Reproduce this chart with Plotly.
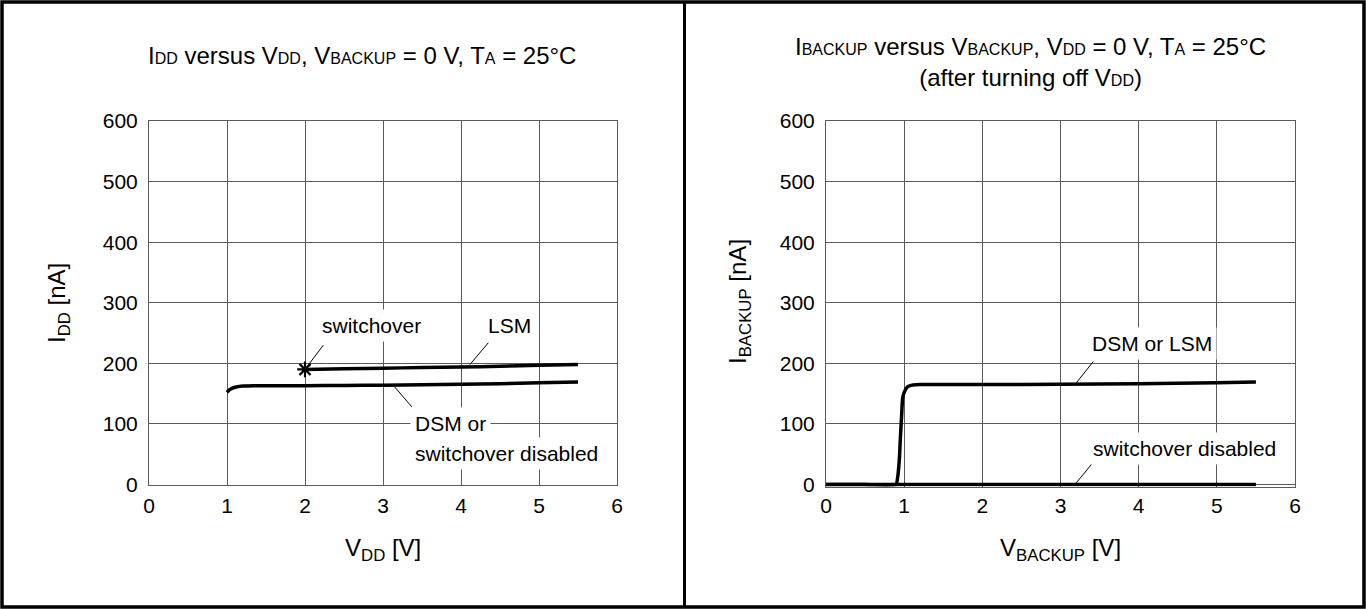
import plotly.graph_objects as go

W, H = 1366, 609

# ---------------- data ----------------
x_ticks = [0, 1, 2, 3, 4, 5, 6]
y_ticks = [0, 100, 200, 300, 400, 500, 600]

# Left panel: IDD versus VDD
lsm_x = [2.0, 2.5, 3.0, 3.5, 4.0, 4.5, 5.0, 5.5]
lsm_y = [190, 191, 192, 193, 194, 195, 197, 198]
switchover_x = [2.0]
switchover_y = [190]
dsm_x = [1.0, 1.03, 1.07, 1.12, 1.2, 1.35, 1.5, 2.0, 2.5, 3.0, 3.5, 4.0, 4.5, 5.0, 5.5]
dsm_y = [152, 156, 159, 161, 162.5, 163, 163, 163, 163.5, 164, 164.5, 165.5, 166.5, 168, 169]

# Right panel: IBACKUP versus VBACKUP
bk_on_x = [0, 0.5, 0.895, 0.92, 0.94, 0.95, 0.97, 0.98, 1.0, 1.04, 1.1, 1.2, 1.5, 2.0, 3.0, 4.0, 5.0, 5.5]
bk_on_y = [0, 0, 0, 15, 45, 73, 120, 142, 152, 161, 164, 165, 165, 165, 165.5, 166.5, 168, 169]
bk_off_x = [0, 5.5]
bk_off_y = [0, 0]

# annotation labels: (text, x, y) in data units, leader lines (x0,y0,x1,y1)
left_labels = [("switchover", 2.85, 262), ("LSM", 4.62, 262)]
left_leaders = [(2.0, 190, 2.235, 230), (4.115, 198, 4.35, 234), (3.15, 161, 3.37, 128)]
left_dsm_labels = [("DSM or", 3.35, 101), ("switchover disabled", 3.35, 51)]
right_labels = [("DSM or LSM", 4.17, 233), ("switchover disabled", 4.58, 60)]
right_leaders = [(3.185, 165, 3.42, 203), (3.185, 0, 3.42, 37)]

# ---------------- layout helpers ----------------
def px(x):
    return x / W

def py(y):
    return 1 - y / H

FONT = "Liberation Sans, Arial, sans-serif"
GRID = "#5a5a5a"

fig = go.Figure()

line_style = dict(color="black", width=3.5)
fig.add_trace(go.Scatter(x=dsm_x, y=dsm_y, mode="lines", line=dict(shape="spline", smoothing=0.6, **line_style),
                         xaxis="x", yaxis="y", showlegend=False, cliponaxis=False))
fig.add_trace(go.Scatter(x=lsm_x, y=lsm_y, mode="lines", line=dict(shape="spline", smoothing=0.6, **line_style),
                         xaxis="x", yaxis="y", showlegend=False, cliponaxis=False))
fig.add_trace(go.Scatter(x=switchover_x, y=switchover_y, mode="markers",
                         marker=dict(symbol="asterisk-open", size=13, color="black",
                                     line=dict(color="black", width=2.2)),
                         xaxis="x", yaxis="y", showlegend=False, cliponaxis=False))
fig.add_trace(go.Scatter(x=bk_on_x, y=bk_on_y, mode="lines", line=dict(shape="spline", smoothing=0.5, **line_style),
                         xaxis="x2", yaxis="y2", showlegend=False, cliponaxis=False))
fig.add_trace(go.Scatter(x=bk_off_x, y=bk_off_y, mode="lines", line=line_style,
                         xaxis="x2", yaxis="y2", showlegend=False, cliponaxis=False))

top_px, zero_px = 121, 484.5
per_px = 600 / (zero_px - top_px)
ydom = [py(zero_px), py(top_px)]
ydom2 = [py(zero_px + 2), py(top_px)]
axis_common = dict(
    showgrid=True, gridcolor=GRID, gridwidth=1,
    showline=True, linecolor=GRID, linewidth=1, mirror=True,
    zeroline=False, ticks="", automargin=False,
    tickfont=dict(family=FONT, size=21, color="black"),
    fixedrange=True,
)
fig.update_layout(
    width=W, height=H,
    margin=dict(l=0, r=0, t=0, b=0, autoexpand=False),
    paper_bgcolor="white", plot_bgcolor="white",
    font=dict(family=FONT, color="black"),
    xaxis=dict(domain=[px(149), px(617)], range=[0, 6], tickvals=x_ticks, anchor="y",
               ticklabelstandoff=2, **axis_common),
    yaxis=dict(domain=ydom, range=[0, 600], tickvals=y_ticks, anchor="x",
               ticklabelstandoff=6, **axis_common),
    xaxis2=dict(domain=[px(826), px(1295)], range=[0, 6], tickvals=x_ticks, anchor="y2",
                ticklabelstandoff=0, **axis_common),
    yaxis2=dict(domain=ydom2, range=[-2 * per_px, 600], tickvals=y_ticks, anchor="x2",
                ticklabelstandoff=6, **axis_common),
)

ann = []
SUB = 'style="font-size:16px"'
# titles
ann.append(dict(xref="paper", yref="paper", x=px(362), y=py(55), xanchor="center", yanchor="middle",
                text=f'I<span {SUB}>DD</span> versus V<span {SUB}>DD</span>, V<span {SUB}>BACKUP</span> = 0 V, T<span {SUB}>A</span> = 25°C',
                showarrow=False, font=dict(size=24)))
ann.append(dict(xref="paper", yref="paper", x=px(1030), y=py(62), xanchor="center", yanchor="middle",
                text=f'I<span {SUB}>BACKUP</span> versus V<span {SUB}>BACKUP</span>, V<span {SUB}>DD</span> = 0 V, T<span {SUB}>A</span> = 25°C<br>(after turning off V<span {SUB}>DD</span>)',
                showarrow=False, font=dict(size=24)))
# axis titles
ann.append(dict(xref="paper", yref="paper", x=px(383), y=py(549), xanchor="center", yanchor="middle",
                text="V<sub>DD</sub> [V]", showarrow=False, font=dict(size=24)))
ann.append(dict(xref="paper", yref="paper", x=px(1060), y=py(549), xanchor="center", yanchor="middle",
                text="V<sub>BACKUP</sub> [V]", showarrow=False, font=dict(size=24)))
ann.append(dict(xref="paper", yref="paper", x=px(59), y=py(303), xanchor="center", yanchor="middle",
                text="I<sub>DD</sub> [nA]", textangle=-90, showarrow=False, font=dict(size=24)))
ann.append(dict(xref="paper", yref="paper", x=px(739), y=py(302), xanchor="center", yanchor="middle",
                text="I<sub>BACKUP</sub> [nA]", textangle=-90, showarrow=False, font=dict(size=24)))

# curve labels
for t, x, y in left_labels:
    ann.append(dict(xref="x", yref="y", x=x, y=y, text=t, showarrow=False, bgcolor="white",
                    borderpad=4, font=dict(size=21)))
for t, x, y in left_dsm_labels:
    ann.append(dict(xref="x", yref="y", x=x, y=y, text=t, xanchor="left", showarrow=False, bgcolor="white",
                    borderpad=4, font=dict(size=21)))
for t, x, y in right_labels:
    ann.append(dict(xref="x2", yref="y2", x=x, y=y, text=t, showarrow=False, bgcolor="white",
                    borderpad=4, font=dict(size=21)))
fig.update_layout(annotations=ann)

shapes = []
for x0, y0, x1, y1 in left_leaders:
    shapes.append(dict(type="line", xref="x", yref="y", x0=x0, y0=y0, x1=x1, y1=y1,
                       line=dict(color="black", width=1)))
for x0, y0, x1, y1 in right_leaders:
    shapes.append(dict(type="line", xref="x2", yref="y2", x0=x0, y0=y0, x1=x1, y1=y1,
                       line=dict(color="black", width=1)))
# outer frame and divider
shapes.append(dict(type="rect", xref="paper", yref="paper", x0=px(2), x1=px(1364), y0=py(607), y1=py(2),
                   line=dict(color="black", width=3.5), layer="above"))
shapes.append(dict(type="line", xref="paper", yref="paper", x0=px(684.5), x1=px(684.5), y0=py(607), y1=py(2),
                   line=dict(color="black", width=3), layer="above"))
fig.update_layout(shapes=shapes)

fig.write_html("out.html", config={"displayModeBar": False},
               post_script="document.body.style.margin='0';document.body.style.overflow='hidden';")
